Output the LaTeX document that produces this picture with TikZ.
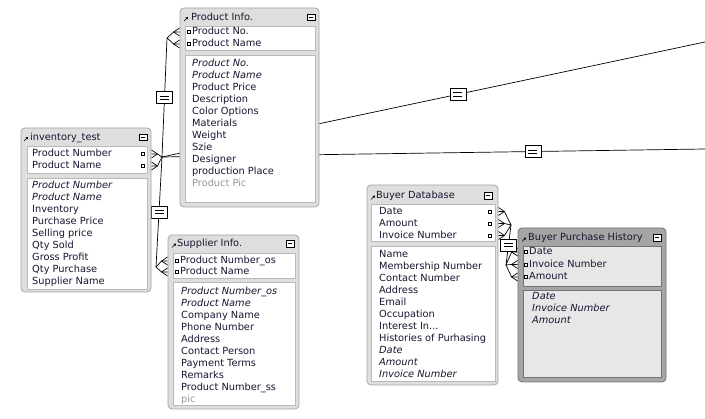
\documentclass[tikz,border=0pt]{standalone}
\usepackage{fontspec}
\usepackage{xcolor}
\usepackage{tikz}
\usetikzlibrary{arrows.meta, positioning, calc, backgrounds}
\newfontfamily\erfont{DejaVu Sans}
\definecolor{myframe}{RGB}{222,222,222}
\definecolor{myedge}{RGB}{165,165,165}
\definecolor{mypanel}{RGB}{185,185,185}
\definecolor{myselframe}{RGB}{165,165,165}
\definecolor{myseledge}{RGB}{115,115,115}
\definecolor{myselpanel}{RGB}{231,231,231}
\definecolor{myink}{RGB}{22,22,48}
\definecolor{mygrayink}{RGB}{150,150,150}
\newcommand{\crowfoot}[3]{%
  \draw[rel] (#1) -- ($(#2)+(#3,0)$) -- (#2);
  \draw[rel] ($(#2)+(0,-4)$) -- ($(#2)+(#3,0)$) -- ($(#2)+(0,4)$);
}
\tikzset{
  table/.style={rectangle, draw=myedge, fill=myframe, rounded corners=4pt,
    line width=0.8pt, inner sep=0pt},
  seltable/.style={table, draw=myseledge, fill=myselframe},
  panel/.style={rectangle, draw=mypanel, fill=white, line width=0.6pt, inner sep=0pt},
  selpanel/.style={panel, draw=myseledge, fill=myselpanel},
  field/.style={anchor=west, inner sep=0pt, text=myink, text height=7.5pt,
    text depth=2pt, font=\erfont\fontsize{9.8}{12}\selectfont},
  keyfield/.style={field, font=\erfont\fontsize{9.8}{12}\selectfont\itshape},
  picfield/.style={field, text=mygrayink},
  title/.style={field},
  keysq/.style={rectangle, draw=black, fill=white, minimum size=3pt,
    inner sep=0pt, line width=0.5pt},
  minbtn/.style={rectangle, draw=black, fill=white, minimum width=8pt,
    minimum height=6.5pt, inner sep=0pt, line width=0.8pt,
    path picture={\draw[line width=1pt]
      ([xshift=1.6pt]path picture bounding box.west) --
      ([xshift=-1.6pt]path picture bounding box.east);}},
  eqbox/.style={rectangle, draw=black, fill=white, minimum width=16pt,
    minimum height=12pt, inner sep=0pt, line width=0.7pt,
    path picture={\draw[line width=0.7pt]
      ([shift={(-4.5pt,1.6pt)}]path picture bounding box.center) -- ++(9pt,0pt)
      ([shift={(-4.5pt,-1.6pt)}]path picture bounding box.center) -- ++(9pt,0pt);}},
  tarrow/.style={-{Triangle[length=2.2pt, width=2.6pt]}, line width=0.6pt},
  rel/.style={line width=0.7pt, color=black}
}

\begin{document}
\begin{tikzpicture}[x=1pt, y=-1pt]
  \useasboundingbox (0,0) rectangle (705,419);

  % inventory_test
  \node[table, minimum width=130pt, minimum height=164pt] (inv) at (86,210) {};
  \node[panel, minimum width=120pt, minimum height=27pt] (invkeys) at (87,159.5) {};
  \node[panel, minimum width=120pt, minimum height=111pt] (invfields) at (87,233.5) {};
  \draw[tarrow] (24,141) -- (28,137);
  \node[title] (invtitle) at (30,137.5) {inventory\_test};
  \node[minbtn] (invbtn) at (143,137.5) {};
  \node[field] (invk1) at (32,154) {Product Number};
  \node[field] (invk2) at (32,166) {Product Name};
  \node[keysq] (invs1) at (142.5,154) {};
  \node[keysq] (invs2) at (142.5,166) {};
  \node[keyfield] (invf1) at (32,186) {Product Number};
  \node[keyfield] (invf2) at (32,198) {Product Name};
  \node[field] (invf3) at (32,210) {Inventory};
  \node[field] (invf4) at (32,222) {Purchase Price};
  \node[field] (invf5) at (32,234) {Selling price};
  \node[field] (invf6) at (32,246) {Qty Sold};
  \node[field] (invf7) at (32,258) {Gross Profit};
  \node[field] (invf8) at (32,270) {Qty Purchase};
  \node[field] (invf9) at (32,282) {Supplier Name};

  % Product Info.
  \node[table, minimum width=139pt, minimum height=199pt] (pi) at (249.5,107.5) {};
  \node[panel, minimum width=130pt, minimum height=24pt] (pikeys) at (250,38) {};
  \node[panel, minimum width=130pt, minimum height=147pt] (pifields) at (250,128.5) {};
  \draw[tarrow] (184,21) -- (188,17);
  \node[title] (pititle) at (191,17.5) {Product Info.};
  \node[minbtn] (pibtn) at (311,17.5) {};
  \node[field] (pik1) at (192,32) {Product No.};
  \node[field] (pik2) at (192,44) {Product Name};
  \node[keysq] (pis1) at (189,32) {};
  \node[keysq] (pis2) at (189,44) {};
  \node[keyfield] (pif1) at (192,64) {Product No.};
  \node[keyfield] (pif2) at (192,76) {Product Name};
  \node[field] (pif3) at (192,88) {Product Price};
  \node[field] (pif4) at (192,100) {Description};
  \node[field] (pif5) at (192,112) {Color Options};
  \node[field] (pif6) at (192,124) {Materials};
  \node[field] (pif7) at (192,136) {Weight};
  \node[field] (pif8) at (192,148) {Szie};
  \node[field] (pif9) at (192,160) {Designer};
  \node[field] (pif10) at (192,172) {production Place};
  \node[picfield] (pif11) at (192,184) {Product Pic};

  % Supplier Info.
  \node[table, minimum width=131pt, minimum height=174pt] (si) at (233.5,322) {};
  \node[panel, minimum width=122pt, minimum height=25pt] (sikeys) at (234,265.5) {};
  \node[panel, minimum width=122pt, minimum height=123pt] (sifields) at (234,343.5) {};
  \draw[tarrow] (172,247.5) -- (176,243.5);
  \node[title] (sititle) at (177,244) {Supplier Info.};
  \node[minbtn] (sibtn) at (290,244) {};
  \node[field] (sik1) at (180,261) {Product Number\_os};
  \node[field] (sik2) at (180,272) {Product Name};
  \node[keysq] (sis1) at (177,261) {};
  \node[keysq] (sis2) at (177,272) {};
  \node[keyfield] (sif1) at (181,292) {Product Number\_os};
  \node[keyfield] (sif2) at (181,304) {Product Name};
  \node[field] (sif3) at (181,316) {Company Name};
  \node[field] (sif4) at (181,328) {Phone Number};
  \node[field] (sif5) at (181,340) {Address};
  \node[field] (sif6) at (181,352) {Contact Person};
  \node[field] (sif7) at (181,364) {Payment Terms};
  \node[field] (sif8) at (181,376) {Remarks};
  \node[field] (sif9) at (181,388) {Product Number\_ss};
  \node[picfield] (sif10) at (181,400) {pic};

  % Buyer Database
  \node[table, minimum width=131pt, minimum height=200pt] (bd) at (432.5,285) {};
  \node[panel, minimum width=124pt, minimum height=37pt] (bdkeys) at (433,222.5) {};
  \node[panel, minimum width=124pt, minimum height=135pt] (bdfields) at (433,313.5) {};
  \draw[tarrow] (371,199.5) -- (375,195.5);
  \node[title] (bdtitle) at (376,196) {Buyer Database};
  \node[minbtn] (bdbtn) at (488,196) {};
  \node[field] (bdk1) at (379,211.5) {Date};
  \node[field] (bdk2) at (379,223.5) {Amount};
  \node[field] (bdk3) at (379,235.5) {Invoice Number};
  \node[keysq] (bds1) at (490,211.5) {};
  \node[keysq] (bds2) at (490,223.5) {};
  \node[keysq] (bds3) at (490,235.5) {};
  \node[field] (bdf1) at (379,255) {Name};
  \node[field] (bdf2) at (379,267) {Membership Number};
  \node[field] (bdf3) at (379,279) {Contact Number};
  \node[field] (bdf4) at (379,291) {Address};
  \node[field] (bdf5) at (379,303) {Email};
  \node[field] (bdf6) at (379,315) {Occupation};
  \node[field] (bdf7) at (379,327) {Interest In...};
  \node[field] (bdf8) at (379,339) {Histories of Purhasing};
  \node[keyfield] (bdf9) at (379,351) {Date};
  \node[keyfield] (bdf10) at (379,363) {Amount};
  \node[keyfield] (bdf11) at (379,375) {Invoice Number};

  % Buyer Purchase History (selected)
  \node[seltable, minimum width=148pt, minimum height=154pt] (bph) at (592,305) {};
  \node[selpanel, minimum width=138pt, minimum height=40pt] (bphkeys) at (592,266) {};
  \node[selpanel, minimum width=138pt, minimum height=87pt] (bphfields) at (592,333.5) {};
  \draw[tarrow] (522,241.5) -- (526,237.5);
  \node[title] (bphtitle) at (528,238) {Buyer Purchase History};
  \node[minbtn] (bphbtn) at (657,238) {};
  \node[field] (bphk1) at (529,252) {Date};
  \node[field] (bphk2) at (529,264.5) {Invoice Number};
  \node[field] (bphk3) at (529,277) {Amount};
  \node[keysq] (bphs1) at (526,252) {};
  \node[keysq] (bphs2) at (526,264.5) {};
  \node[keysq] (bphs3) at (526,277) {};
  \node[keyfield] (bphf1) at (532,297) {Date};
  \node[keyfield] (bphf2) at (532,309) {Invoice Number};
  \node[keyfield] (bphf3) at (532,321) {Amount};

  % Relationships, behind the tables
  \begin{pgfonlayer}{background}
    \fill[white] (0,0) rectangle (705,419);
    \coordinate (jinv) at (162,157);
    \coordinate (jpi) at (167,38);
    \coordinate (jsi) at (156,267);
    \coordinate (jbd) at (511,225);
    \coordinate (jbph) at (506,265);
    \coordinate (farA) at (705,42);
    \coordinate (farB) at (705,149);
    \coordinate (invE1) at (inv.east |- invk1);
    \coordinate (invE2) at (inv.east |- invk2);
    \coordinate (piE1) at (pi.west |- pik1);
    \coordinate (piE2) at (pi.west |- pik2);
    \coordinate (siE1) at (si.west |- sik1);
    \coordinate (siE2) at (si.west |- sik2);
    \coordinate (bdE1) at (bd.east |- bdk1);
    \coordinate (bdE2) at (bd.east |- bdk2);
    \coordinate (bdE3) at (bd.east |- bdk3);
    \coordinate (bphE1) at (bph.west |- bphk1);
    \coordinate (bphE2) at (bph.west |- bphk2);
    \coordinate (bphE3) at (bph.west |- bphk3);

    % Crow's feet
    \crowfoot{jinv}{invE1}{6}
    \crowfoot{jinv}{invE2}{6}
    \crowfoot{jpi}{piE1}{-6}
    \crowfoot{jpi}{piE2}{-6}
    \crowfoot{jsi}{siE1}{-6}
    \crowfoot{jsi}{siE2}{-6}
    \crowfoot{jbd}{bdE1}{6}
    \crowfoot{jbd}{bdE2}{6}
    \crowfoot{jbd}{bdE3}{6}
    \crowfoot{jbph}{bphE1}{-6}
    \crowfoot{jbph}{bphE2}{-6}
    \crowfoot{jbph}{bphE3}{-6}

    % Join lines with their = boxes
    \draw[rel] (jpi) -- node[eqbox] (eqpi) {} (jinv);
    \draw[rel] (jinv) -- node[eqbox] (eqsi) {} (jsi);
    \draw[rel] (jinv) -- node[eqbox, pos=0.545] (eqfarA) {} (farA);
    \draw[rel] (jinv) -- node[eqbox, pos=0.683] (eqfarB) {} (farB);
    \draw[rel] (jbd) -- node[eqbox] (eqbd) {} (jbph);
  \end{pgfonlayer}
\end{tikzpicture}
\end{document}
